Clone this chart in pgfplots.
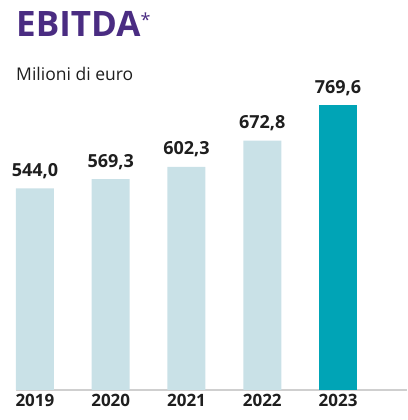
\documentclass[border=0pt]{standalone}
\usepackage{pgfplots}
\pgfplotsset{compat=1.18}
\usepackage{fontspec}
\setmainfont{Open Sans}
\definecolor{titlepurple}{HTML}{4A2C82}
\definecolor{barlight}{HTML}{C9E1E7}
\definecolor{barteal}{HTML}{00A4B6}
\definecolor{txt}{HTML}{1E1E1E}
\definecolor{axisgray}{HTML}{CFCFCF}
\begin{document}
\begin{tikzpicture}[x=1pt,y=1pt]
\useasboundingbox (0,0) rectangle (407,420);
\node[anchor=base west, inner sep=0, text=titlepurple, font=\fontsize{35}{38}\selectfont\bfseries] at (16,383) {EBITDA\raisebox{10pt}{\fontsize{18}{18}\selectfont\mdseries *}};
\node[anchor=base west, inner sep=0, text=txt, font=\fontsize{17.5}{20}\selectfont] at (16,339) {Milioni di euro};
\begin{axis}[
  at={(16pt,30pt)}, anchor=south west,
  scale only axis, width=391pt, height=296.4pt,
  xmin=-0.25, xmax=4.91, ymin=0, ymax=800,
  axis x line*=bottom, hide y axis,
  x axis line style={draw=axisgray, line width=2pt},
  xtick={0,1,2,3,4}, xticklabels={2019,2020,2021,2022,2023},
  major tick length=0pt,
  xticklabel style={font=\fontsize{17}{19}\selectfont\bfseries, text=txt, yshift=-1pt},
  ybar, bar width=38pt, bar shift=0pt,
  nodes near coords,
  point meta=explicit symbolic,
  every node near coord/.append style={font=\fontsize{18}{20}\selectfont\bfseries, text=txt, anchor=south, yshift=6pt},
  clip=false,
]
\addplot[fill=barlight, draw=none] coordinates {(0,544.0) [544,0] (1,569.3) [569,3] (2,602.3) [602,3] (3,672.8) [672,8]};
\addplot[fill=barteal, draw=none] coordinates {(4,769.6) [769,6]};
\end{axis}
\end{tikzpicture}
\end{document}
